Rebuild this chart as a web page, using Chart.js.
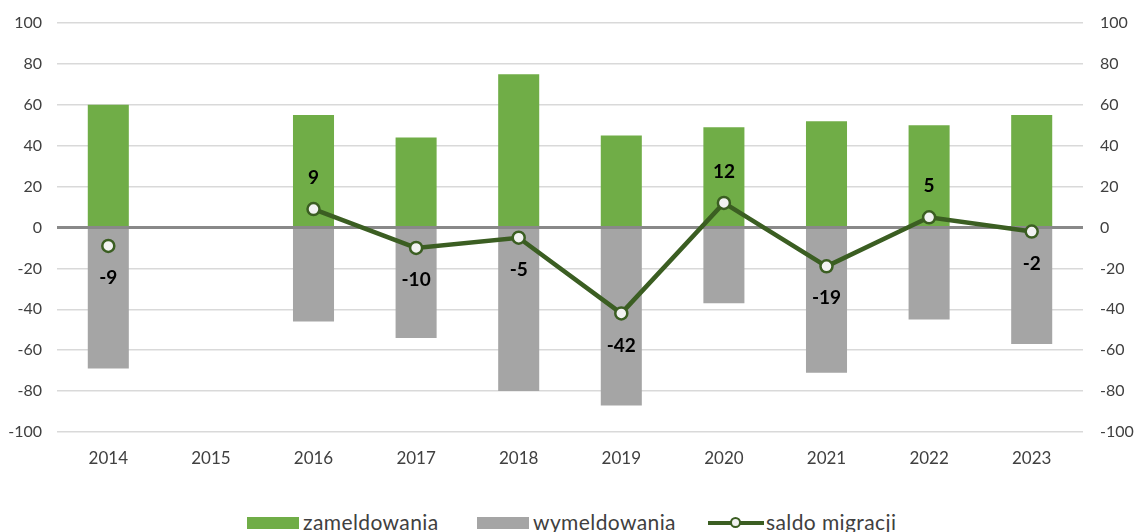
<!DOCTYPE html>
<html>
<head>
<meta charset="utf-8">
<script src="https://cdn.jsdelivr.net/npm/chart.js@4.4.1/dist/chart.umd.min.js"></script>
<style>
  html, body { margin: 0; padding: 0; background: #fff; overflow: hidden; }
  #wrap { position: relative; width: 1140px; height: 532px; }
  #chart { position: absolute; left: 0; top: 0; }
  #legend { position: absolute; left: 0; top: 509px; width: 1140px; height: 30px;
    font-family: Lato, "DejaVu Sans", sans-serif; font-size: 21px; letter-spacing: 0.4px; color: #404040; }
  .item { position: absolute; top: 0; white-space: nowrap; line-height: 26px; }
  .box { display: inline-block; width: 52px; height: 12px; vertical-align: 1px; margin-right: 4px; }
  .lineKey { display: inline-block; position: relative; width: 56px; height: 12px; vertical-align: 1px; margin-right: 2px; }
  .lineKey:before { content: ""; position: absolute; left: 0; right: 0; top: 4px; height: 4px; background: #3b5e22; }
  .lineKey:after { content: ""; position: absolute; left: 22px; top: 0; width: 7px; height: 7px; border: 2.5px solid #3b5e22; border-radius: 50%; background: #f2f2f2; }
</style>
</head>
<body>
<div id="wrap">
  <canvas id="chart" width="1140" height="480"></canvas>
  <div id="legend">
    <div class="item" style="left:247px"><span class="box" style="background:#70ad47"></span>zameldowania</div>
    <div class="item" style="left:477px"><span class="box" style="background:#a5a5a5"></span>wymeldowania</div>
    <div class="item" style="left:708px"><span class="lineKey"></span>saldo migracji</div>
  </div>
</div>
<script>
const years = ["2014", "2015", "2016", "2017", "2018", "2019", "2020", "2021", "2022", "2023"];
const zameldowania = [60, null, 55, 44, 75, 45, 49, 52, 50, 55];
const wymeldowania = [-69, null, -46, -54, -80, -87, -37, -71, -45, -57];
const saldo = [-9, null, 9, -10, -5, -42, 12, -19, 5, -2];

const FONT = "Lato, 'DejaVu Sans', sans-serif";

const saldoLabels = {
  id: "saldoLabels",
  afterDatasetsDraw(chart) {
    const ctx = chart.ctx;
    const meta = chart.getDatasetMeta(2);
    ctx.save();
    ctx.font = "bold 19px " + FONT;
    ctx.fillStyle = "#000";
    ctx.textAlign = "center";
    ctx.textBaseline = "middle";
    meta.data.forEach((pt, i) => {
      const v = saldo[i];
      if (v === null) return;
      const y = v > 0 ? pt.y - 31 : pt.y + 32;
      ctx.fillText(String(v), pt.x, y);
    });
    ctx.restore();
  }
};

// fixed axis sizes so the plot area sits where the original one does
const fitSide = (s) => { s.width = 57; s.paddingTop = 0; s.paddingBottom = 0; };

new Chart(document.getElementById("chart"), {
  type: "bar",
  data: {
    labels: years,
    datasets: [
      { label: "zameldowania", data: zameldowania, backgroundColor: "#70ad47", stack: "s", order: 2 },
      { label: "wymeldowania", data: wymeldowania, backgroundColor: "#a5a5a5", stack: "s", order: 2 },
      {
        type: "line", label: "saldo migracji", data: saldo, yAxisID: "y2", order: 0,
        borderColor: "#3b5e22", borderWidth: 4.5, spanGaps: false, tension: 0,
        pointRadius: 6, pointBorderWidth: 2.5, pointBackgroundColor: "#f2f2f2",
        pointBorderColor: "#3b5e22"
      }
    ]
  },
  options: {
    responsive: false,
    animation: false,
    layout: { padding: { top: 23, bottom: 0, left: 0, right: 0 } },
    datasets: { bar: { categoryPercentage: 1, barPercentage: 0.4 } },
    plugins: { legend: { display: false }, tooltip: { enabled: false } },
    scales: {
      x: {
        stacked: true,
        grid: { display: false, drawTicks: false },
        border: { display: false },
        ticks: { color: "#404040", font: { family: FONT, size: 17 }, padding: 16 },
        afterFit: (s) => { s.height = 48; s.paddingLeft = 0; s.paddingRight = 0; }
      },
      y: {
        stacked: true,
        min: -100, max: 100,
        ticks: { stepSize: 20, color: "#404040", font: { family: FONT, size: 16 }, padding: 15 },
        grid: {
          drawTicks: false,
          color: (c) => (c.tick && c.tick.value === 0 ? "#898989" : "#d9d9d9"),
          lineWidth: (c) => (c.tick && c.tick.value === 0 ? 3 : 1.5)
        },
        border: { display: false },
        afterFit: fitSide
      },
      y2: {
        position: "right",
        min: -100, max: 100,
        ticks: { stepSize: 20, color: "#404040", font: { family: FONT, size: 16 }, padding: 17 },
        grid: { display: false, drawTicks: false },
        border: { display: false },
        afterFit: fitSide
      }
    }
  },
  plugins: [saldoLabels]
});
</script>
</body>
</html>
